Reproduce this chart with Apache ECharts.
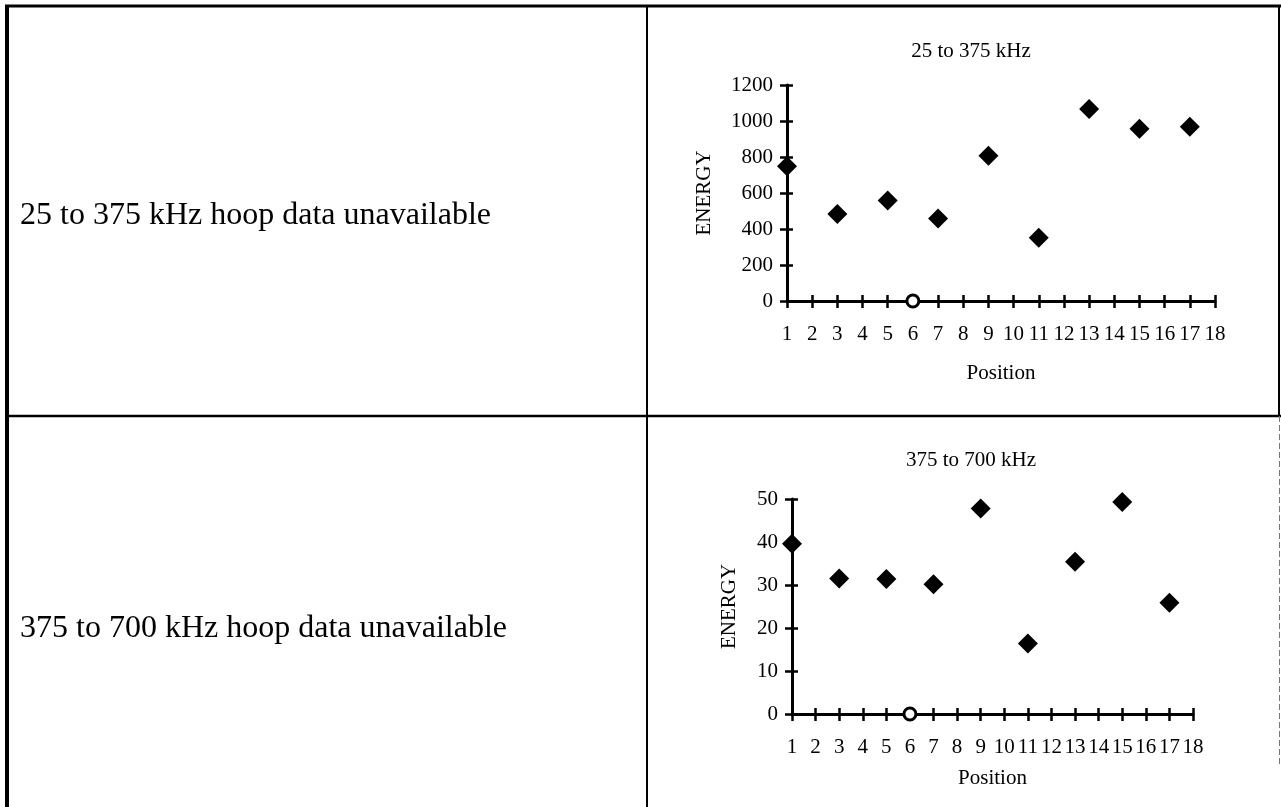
<!DOCTYPE html>
<html>
<head>
<meta charset="utf-8">
<script src="https://cdn.jsdelivr.net/npm/echarts@6/dist/echarts.min.js"></script>
<style>
html,body{margin:0;padding:0;background:#fff;}
#c{width:1281px;height:807px;}
</style>
</head>
<body>
<div id="c"></div>
<script>
// ---- data ----
const titles = ['25 to 375 kHz', '375 to 700 kHz'];
const leftNotes = ['25 to 375 kHz hoop data unavailable', '375 to 700 kHz hoop data unavailable'];
const positions = [1, 3, 5, 7, 9, 11, 13, 15, 17];
const energyLow = [748, 484, 558, 458, 807, 351, 1066, 957, 968];
const energyHigh = [39.6, 31.5, 31.4, 30.2, 47.8, 16.4, 35.4, 49.3, 25.9];
const missingPos = [6];
const missingLow = [0];
const missingHigh = [0];
const yMaxLow = 1200, yStepLow = 200;
const yMaxHigh = 50, yStepHigh = 10;
const xMin = 1, xMax = 18;

const FONT = '"Liberation Serif", "Times New Roman", serif';
const FS = 21;
const chart = echarts.init(document.getElementById('c'), null, {renderer: 'canvas'});

function xAxes(gridIndex, gap) {
  return [
    {
      gridIndex, type: 'value', min: xMin, max: xMax, interval: 1, position: 'bottom',
      name: 'Position', nameLocation: 'middle', nameGap: gap,
      nameTextStyle: {fontFamily: FONT, fontSize: FS, color: '#000'},
      axisLine: {show: true, onZero: false, lineStyle: {color: '#000', width: 3}},
      axisTick: {show: true, inside: false, length: 7, lineStyle: {color: '#000', width: 2.5}},
      axisLabel: {fontFamily: FONT, fontSize: FS, color: '#000', margin: 23, showMinLabel: true, showMaxLabel: true,
                  formatter: v => String(v)},
      splitLine: {show: false}
    },
    {
      gridIndex, type: 'value', min: xMin, max: xMax, interval: 1, position: 'bottom', offset: 0,
      axisLine: {show: false, onZero: false},
      axisTick: {show: true, inside: true, length: 6, lineStyle: {color: '#000', width: 2.5}},
      axisLabel: {show: false},
      splitLine: {show: false}
    }
  ];
}
function yAxes(gridIndex, max, step, gap) {
  return [
    {
      gridIndex, type: 'value', min: 0, max, interval: step, position: 'left',
      name: 'ENERGY', nameLocation: 'middle', nameGap: gap, nameRotate: 90,
      nameTextStyle: {fontFamily: FONT, fontSize: FS, color: '#000'},
      axisLine: {show: true, onZero: false, lineStyle: {color: '#000', width: 3}},
      axisTick: {show: true, inside: false, length: 7, lineStyle: {color: '#000', width: 2.5}},
      axisLabel: {fontFamily: FONT, fontSize: FS, color: '#000', margin: 14, formatter: v => String(v)},
      splitLine: {show: false}
    },
    {
      gridIndex, type: 'value', min: 0, max, interval: step, position: 'left', offset: 0,
      axisLine: {show: false, onZero: false},
      axisTick: {show: true, inside: true, length: 6, lineStyle: {color: '#000', width: 2.5}},
      axisLabel: {show: false},
      splitLine: {show: false}
    }
  ];
}

const pairs = (xs, ys) => xs.map((x, i) => [x, ys[i]]);

const frame = [
  {type: 'line', shape: {x1: 5, y1: 6, x2: 1281, y2: 6}, style: {stroke: '#000', lineWidth: 3}},
  {type: 'line', shape: {x1: 7, y1: 5, x2: 7, y2: 807}, style: {stroke: '#000', lineWidth: 4}},
  {type: 'line', shape: {x1: 647, y1: 6, x2: 647, y2: 807}, style: {stroke: '#000', lineWidth: 2}},
  {type: 'line', shape: {x1: 5, y1: 416, x2: 1281, y2: 416}, style: {stroke: '#000', lineWidth: 2.5}},
  {type: 'line', shape: {x1: 1279, y1: 6, x2: 1279, y2: 416}, style: {stroke: '#000', lineWidth: 2}},
  {type: 'line', shape: {x1: 1279.5, y1: 416, x2: 1279.5, y2: 767}, style: {stroke: '#777', lineWidth: 1, lineDash: [6, 3]}},
  {type: 'text', left: 20, top: 200, style: {text: leftNotes[0], font: '32px ' + FONT, fill: '#000'}},
  {type: 'text', left: 20, top: 613, style: {text: leftNotes[1], font: '32px ' + FONT, fill: '#000'}}
];

const option = {
  backgroundColor: '#fff',
  animation: false,
  title: [
    {text: titles[0], left: 966, top: 36, textAlign: 'center',
     textStyle: {fontFamily: FONT, fontSize: FS, fontWeight: 'normal', color: '#000'}},
    {text: titles[1], left: 966, top: 445, textAlign: 'center',
     textStyle: {fontFamily: FONT, fontSize: FS, fontWeight: 'normal', color: '#000'}}
  ],
  grid: [
    {left: 787, right: 66, top: 85, height: 216},
    {left: 792, right: 88, top: 499, height: 215}
  ],
  xAxis: [...xAxes(0, 62), ...xAxes(1, 54)],
  yAxis: [...yAxes(0, yMaxLow, yStepLow, 72), ...yAxes(1, yMaxHigh, yStepHigh, 52)],
  series: [
    {type: 'scatter', xAxisIndex: 0, yAxisIndex: 0, symbol: 'diamond', symbolSize: [20, 20],
     itemStyle: {color: '#000', opacity: 1}, data: pairs(positions, energyLow), z: 5},
    {type: 'scatter', xAxisIndex: 0, yAxisIndex: 0, symbol: 'circle', symbolSize: 12,
     itemStyle: {color: '#fff', borderColor: '#000', borderWidth: 3, opacity: 1}, data: pairs(missingPos, missingLow), z: 6},
    {type: 'scatter', xAxisIndex: 2, yAxisIndex: 2, symbol: 'diamond', symbolSize: [20, 20],
     itemStyle: {color: '#000', opacity: 1}, data: pairs(positions, energyHigh), z: 5},
    {type: 'scatter', xAxisIndex: 2, yAxisIndex: 2, symbol: 'circle', symbolSize: 12,
     itemStyle: {color: '#fff', borderColor: '#000', borderWidth: 3, opacity: 1}, data: pairs(missingPos, missingHigh), z: 6}
  ],
  graphic: frame
};
chart.setOption(option);
</script>
</body>
</html>
